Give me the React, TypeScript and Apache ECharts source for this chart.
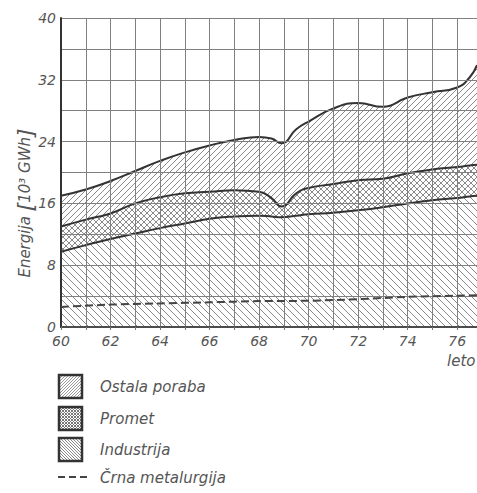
import React, { useEffect, useRef } from "react";
import * as echarts from "echarts";

// Years sampled along the x axis (leto)
const years = [60, 61, 62, 63, 64, 65, 66, 67, 68, 68.5, 68.9, 69.5, 70, 71, 72, 73, 74, 75, 76, 76.5, 76.8];
// Upper boundary of "Industrija" (10^3 GWh)
const industrijaTop = [9.75, 10.6, 11.4, 12.1, 12.8, 13.4, 14.0, 14.3, 14.4, 14.3, 14.2, 14.4, 14.6, 14.8, 15.1, 15.5, 16.0, 16.4, 16.7, 16.9, 17.0];
// Upper boundary of "Promet" (Industrija + Promet)
const prometTop = [13.0, 13.9, 14.7, 16.0, 16.8, 17.3, 17.5, 17.7, 17.5, 16.7, 15.6, 17.3, 18.0, 18.5, 19.0, 19.2, 19.9, 20.4, 20.7, 20.9, 21.0];
// Upper boundary of "Ostala poraba" (total)
const totalTop = [17.0, 17.8, 18.9, 20.2, 21.5, 22.6, 23.5, 24.2, 24.6, 24.4, 23.8, 25.6, 26.6, 28.3, 29.0, 28.5, 29.7, 30.4, 31.0, 32.3, 33.9];
// Črna metalurgija (dashed line)
const crnaYears = [60, 62, 64, 66, 68, 70, 72, 74, 76, 76.8];
const crnaValues = [2.6, 2.9, 3.05, 3.2, 3.35, 3.4, 3.6, 3.9, 4.05, 4.1];

const xLabels = [60, 62, 64, 66, 68, 70, 72, 74, 76];
const yLabels = [0, 8, 16, 24, 32, 40];

const legendNames = ["Ostala poraba", "Promet", "Industrija", "Črna metalurgija"];

function makeHatch(size: number, dirs: string[], color: string, lw: number) {
  const c = document.createElement("canvas");
  c.width = size;
  c.height = size;
  const ctx = c.getContext("2d")!;
  ctx.fillStyle = "#ffffff";
  ctx.fillRect(0, 0, size, size);
  ctx.strokeStyle = color;
  ctx.lineWidth = lw;
  ctx.lineCap = "square";
  const seg = (x1: number, y1: number, x2: number, y2: number) => {
    ctx.beginPath();
    ctx.moveTo(x1, y1);
    ctx.lineTo(x2, y2);
    ctx.stroke();
  };
  for (const d of dirs) {
    if (d === "/") {
      seg(-1, size + 1, size + 1, -1);
      seg(-1, 1, 1, -1);
      seg(size - 1, size + 1, size + 1, size - 1);
    } else {
      seg(-1, -1, size + 1, size + 1);
      seg(size - 1, -1, size + 1, 1);
      seg(-1, size - 1, 1, size + 1);
    }
  }
  return { image: c, repeat: "repeat", imageWidth: size, imageHeight: size } as any;
}

export default function App() {
  const ref = useRef<HTMLDivElement>(null);
  useEffect(() => {
    document.body.style.margin = "0";
    if (!ref.current) return;
    const chart = echarts.init(ref.current, undefined, { renderer: "svg" });

    const hatchOstala = makeHatch(6, ["/"], "#8a8a8a", 1);
    const hatchPromet = makeHatch(6, ["/", "\\"], "#8a8a8a", 1);
    const hatchInd = makeHatch(7, ["\\"], "#8a8a8a", 1);
    const legOstala = makeHatch(3, ["/"], "#9a9a9a", 1);
    const legPromet = makeHatch(3, ["/", "\\"], "#777", 1);
    const legInd = makeHatch(3, ["\\"], "#8a8a8a", 1);

    const font = "'DejaVu Sans', sans-serif";
    const txtColor = "#555";
    const lineColor = "#333";
    const gridColor = "#808080";

    const ind = years.map((x, i) => [x, industrijaTop[i]]);
    const prom = years.map((x, i) => [x, prometTop[i]]);
    const tot = years.map((x, i) => [x, totalTop[i]]);
    const crna = crnaYears.map((x, i) => [x, crnaValues[i]]);

    const areaSeries = (name: string, data: number[][], pattern: any, z: number) => ({
      name,
      type: "line",
      data,
      smooth: 0.5,
      showSymbol: false,
      symbol: "none",
      itemStyle: { color: lineColor },
      lineStyle: { color: lineColor, width: 2 },
      areaStyle: { color: pattern, opacity: 1 },
      z,
    });

    const legendTop = [375, 407, 438];
    const legendPatterns = [legOstala, legPromet, legInd];
    const graphic: any[] = [];
    legendTop.forEach((t, i) => {
      graphic.push({
        type: "rect",
        shape: { x: 59, y: t, width: 23, height: 23 },
        style: { fill: legendPatterns[i], stroke: "#333", lineWidth: 2.5 },
      });
      graphic.push({
        type: "text",
        x: 100,
        y: t + 12,
        style: {
          text: legendNames[i],
          font: `italic 15px ${font}`,
          fill: txtColor,
          verticalAlign: "middle",
          align: "left",
        },
      });
    });
    graphic.push({
      type: "line",
      shape: { x1: 58, y1: 477, x2: 88, y2: 477 },
      style: { stroke: "#444", lineWidth: 2, lineDash: [7, 4] },
    });
    graphic.push({
      type: "text",
      x: 100,
      y: 478,
      style: {
        text: legendNames[3],
        font: `italic 15px ${font}`,
        fill: txtColor,
        verticalAlign: "middle",
        align: "left",
      },
    });
    graphic.push({
      type: "text",
      x: 447,
      y: 361,
      style: {
        text: "leto",
        font: `italic 15px ${font}`,
        fill: txtColor,
        verticalAlign: "middle",
        align: "left",
      },
    });
    graphic.push({
      type: "text",
      x: 25,
      y: 203,
      rotation: Math.PI / 2,
      style: {
        text: "{t|Energija }{b|[}{t|10³ GWh}{b|]}",
        align: "center",
        verticalAlign: "middle",
        rich: {
          t: { font: `italic 15px ${font}`, fill: txtColor },
          b: { font: `italic 22px ${font}`, fill: txtColor },
        },
      },
    });

    chart.setOption({
      animation: false,
      backgroundColor: "#ffffff",
      grid: { left: 61, right: 0, top: 18, bottom: 166, containLabel: false },
      xAxis: [
        {
          type: "value",
          min: 60,
          max: 76.8,
          interval: 1,
          z: 6,
          axisLine: { show: true, onZero: false, lineStyle: { color: lineColor, width: 2 } },
          axisTick: { show: true, length: 3, lineStyle: { color: "#777" } },
          axisLabel: {
            showMaxLabel: false,
            margin: 7,
            fontFamily: font,
            fontStyle: "italic",
            fontSize: 14,
            color: txtColor,
            formatter: (v: number) => (xLabels.indexOf(v) >= 0 ? String(v) : ""),
          },
          splitLine: { show: true, lineStyle: { color: gridColor, width: 1 } },
        },
        {
          type: "value",
          position: "top",
          min: 60,
          max: 76.8,
          interval: 1,
          z: 6,
          axisLine: { show: true, lineStyle: { color: "#555", width: 1.5 } },
          axisTick: { show: false },
          axisLabel: { show: false },
          splitLine: { show: false },
        },
      ],
      yAxis: {
        type: "value",
        min: 0,
        max: 40,
        interval: 4,
        z: 6,
        axisLine: { show: true, lineStyle: { color: lineColor, width: 2 } },
        axisTick: { show: false },
        axisLabel: {
          margin: 5,
          fontFamily: font,
          fontStyle: "italic",
          fontSize: 14,
          color: txtColor,
          formatter: (v: number) => (yLabels.indexOf(v) >= 0 ? String(v) : ""),
        },
        splitLine: { show: true, lineStyle: { color: gridColor, width: 1 } },
      },
      series: [
        areaSeries("Ostala poraba", tot, hatchOstala, 2),
        areaSeries("Promet", prom, hatchPromet, 3),
        areaSeries("Industrija", ind, hatchInd, 4),
        {
          name: "Črna metalurgija",
          type: "line",
          data: crna,
          smooth: 0.3,
          showSymbol: false,
          symbol: "none",
          itemStyle: { color: "#444" },
          lineStyle: { color: "#444", width: 2, type: [8, 4] },
          z: 7,
        },
      ],
      graphic,
    });
    return () => chart.dispose();
  }, []);
  return <div ref={ref} style={{ width: 477, height: 493 }} />;
}
